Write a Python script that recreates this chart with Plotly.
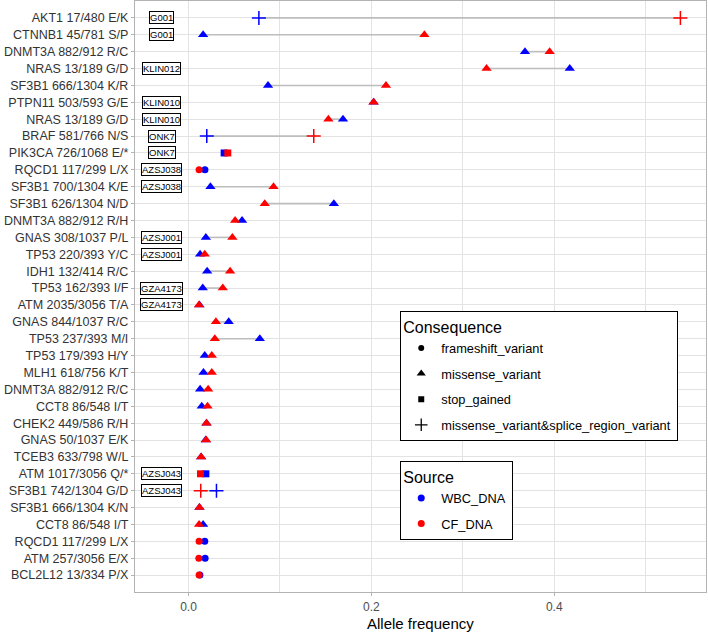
import numpy as np
import plotly.graph_objects as go

variants = [
    "AKT1 17/480 E/K", "CTNNB1 45/781 S/P", "DNMT3A 882/912 R/C", "NRAS 13/189 G/D",
    "SF3B1 666/1304 K/R", "PTPN11 503/593 G/E", "NRAS 13/189 G/D", "BRAF 581/766 N/S",
    "PIK3CA 726/1068 E/*", "RQCD1 117/299 L/X", "SF3B1 700/1304 K/E", "SF3B1 626/1304 N/D",
    "DNMT3A 882/912 R/H", "GNAS 308/1037 P/L", "TP53 220/393 Y/C", "IDH1 132/414 R/C",
    "TP53 162/393 I/F", "ATM 2035/3056 T/A", "GNAS 844/1037 R/C", "TP53 237/393 M/I",
    "TP53 179/393 H/Y", "MLH1 618/756 K/T", "DNMT3A 882/912 R/C", "CCT8 86/548 I/T",
    "CHEK2 449/586 R/H", "GNAS 50/1037 E/K", "TCEB3 633/798 W/L", "ATM 1017/3056 Q/*",
    "SF3B1 742/1304 G/D", "SF3B1 666/1304 K/N", "CCT8 86/548 I/T", "RQCD1 117/299 L/X",
    "ATM 257/3056 E/X", "BCL2L12 13/334 P/X",
]

consequence = [
    "splice", "missense", "missense", "missense",
    "missense", "missense", "missense", "splice",
    "stop", "frameshift", "missense", "missense",
    "missense", "missense", "missense", "missense",
    "missense", "missense", "missense", "missense",
    "missense", "missense", "missense", "missense",
    "missense", "missense", "missense", "stop",
    "splice", "missense", "missense", "frameshift",
    "frameshift", "frameshift",
]

wbc_af = [
    0.077, 0.016, 0.368, 0.417,
    0.087, 0.2025, 0.169, 0.020,
    0.039, 0.018, 0.024, 0.159,
    0.0586, 0.019, 0.0127, 0.0204,
    0.0156, 0.012, 0.044, 0.078,
    0.0178, 0.0164, 0.0127, 0.0145,
    0.0197, 0.0188, 0.0138, 0.019,
    0.0306, 0.012, 0.016, 0.0178,
    0.0182, 0.0125,
]

cf_af = [
    0.538, 0.258, 0.395, 0.326,
    0.216, 0.2025, 0.153, 0.137,
    0.043, 0.0116, 0.093, 0.0834,
    0.051, 0.048, 0.0178, 0.0455,
    0.0375, 0.0115, 0.030, 0.0288,
    0.0255, 0.0255, 0.0215, 0.0208,
    0.0197, 0.0193, 0.0138, 0.0131,
    0.0134, 0.012, 0.0116, 0.0116,
    0.0113, 0.0116,
]

patient = [
    "G001", "G001", "", "KLIN012",
    "", "KLIN010", "KLIN010", "ONK7",
    "ONK7", "AZSJ038", "AZSJ038", "",
    "", "AZSJ001", "AZSJ001", "",
    "GZA4173", "GZA4173", "", "",
    "", "", "", "",
    "", "", "", "AZSJ043",
    "AZSJ043", "", "", "",
    "", "",
]

cons_names = ["frameshift", "missense", "stop", "splice"]
cons_labels = ["frameshift_variant", "missense_variant", "stop_gained",
               "missense_variant&amp;splice_region_variant"]
cons_symbols = {"frameshift": "circle", "missense": "triangle-up",
                "stop": "square", "splice": "cross-thin"}
cons_sizes = {"frameshift": 7, "missense": 9, "stop": 7, "splice": 10}

source_names = ["WBC_DNA", "CF_DNA"]
source_colors = {"WBC_DNA": "#0000FF", "CF_DNA": "#FF0000"}

n = len(variants)
ypos = np.arange(n)
wbc = np.array(wbc_af)
cf = np.array(cf_af)
cons = np.array(consequence)

fig = go.Figure()

# connecting segments
seg_x, seg_y = [], []
for i in range(n):
    seg_x += [wbc[i], cf[i], None]
    seg_y += [ypos[i], ypos[i], None]
fig.add_trace(go.Scatter(x=seg_x, y=seg_y, mode="lines",
                         line=dict(color="#bdbdbd", width=1.6),
                         showlegend=False, hoverinfo="skip"))

for src, vals in [("WBC_DNA", wbc), ("CF_DNA", cf)]:
    col = source_colors[src]
    for c in cons_names:
        m = cons == c
        if not m.any():
            continue
        sym = cons_symbols[c]
        marker = dict(symbol=sym, size=cons_sizes[c], color=col)
        if sym == "cross-thin":
            marker["line"] = dict(color=col, width=1.5)
        else:
            marker["line"] = dict(width=0)
        fig.add_trace(go.Scatter(x=vals[m], y=ypos[m], mode="markers",
                                 marker=marker, showlegend=False))

# legend: Consequence
for c, lab in zip(cons_names, cons_labels):
    sym = cons_symbols[c]
    marker = dict(symbol=sym, size=cons_sizes[c] - 1, color="black")
    if sym == "cross-thin":
        marker["line"] = dict(color="black", width=1.3)
    fig.add_trace(go.Scatter(x=[None], y=[None], mode="markers", marker=marker,
                             name=lab, legend="legend", legendgroup="c_" + c,
                             showlegend=True))
# legend: Source
for s in source_names:
    fig.add_trace(go.Scatter(x=[None], y=[None], mode="markers",
                             marker=dict(symbol="circle", size=7, color=source_colors[s]),
                             name=s, legend="legend2", legendgroup="s_" + s,
                             showlegend=True))

# patient labels
for i in range(n):
    if patient[i]:
        fig.add_annotation(x=-0.0295, y=ypos[i], xref="x", yref="y", text=patient[i],
                           showarrow=False, font=dict(size=9.5, color="black",
                                                      family="Liberation Sans"),
                           bgcolor="white", bordercolor="black", borderwidth=1,
                           borderpad=0)

# x-axis title
fig.add_annotation(x=0.5, y=-0.0525, xref="paper", yref="paper",
                   text="Allele frequency", showarrow=False,
                   font=dict(size=15, color="black"), xanchor="center", yanchor="middle")

fig.update_layout(
    width=708, height=633,
    margin=dict(l=135, r=2, t=1, b=41),
    plot_bgcolor="white", paper_bgcolor="white",
    font=dict(family="Liberation Sans", color="black"),
    legend=dict(title=dict(text="Consequence", font=dict(size=16)),
                font=dict(size=12.8), x=0.464, y=0.4755, xanchor="left", yanchor="top",
                bordercolor="black", borderwidth=1.3, bgcolor="white",
                tracegroupgap=6),
    legend2=dict(title=dict(text="Source", font=dict(size=16)),
                 font=dict(size=12.8), x=0.464, y=0.2217, xanchor="left", yanchor="top",
                 bordercolor="black", borderwidth=1.3, bgcolor="white",
                 tracegroupgap=6),
)

fig.update_xaxes(range=[-0.0585, 0.566], tickvals=[0, 0.2, 0.4],
                 ticktext=["0.0", "0.2", "0.4"], showgrid=True, gridcolor="#e3e3e3",
                 gridwidth=1, zeroline=False, automargin=False,
                 minor=dict(tickvals=[0.1, 0.3, 0.5], showgrid=True,
                            gridcolor="#e3e3e3", gridwidth=1),
                 showline=True, mirror=True, linecolor="#b3b3b3", linewidth=1.3,
                 ticks="outside", ticklen=3, tickcolor="#b3b3b3",
                 tickfont=dict(size=12, color="#4d4d4d"))
fig.update_yaxes(range=[n, -1], tickvals=list(ypos), ticktext=variants,
                 showgrid=True, gridcolor="#e3e3e3", gridwidth=1, zeroline=False,
                 automargin=False,
                 showline=True, mirror=True, linecolor="#b3b3b3", linewidth=1.3,
                 ticks="outside", ticklen=3, tickcolor="#b3b3b3",
                 tickfont=dict(size=12.5, color="#333333"))

fig.write_html("out.html", config={"displayModeBar": False},
               post_script="document.body.style.margin='0';document.body.style.padding='0';")
